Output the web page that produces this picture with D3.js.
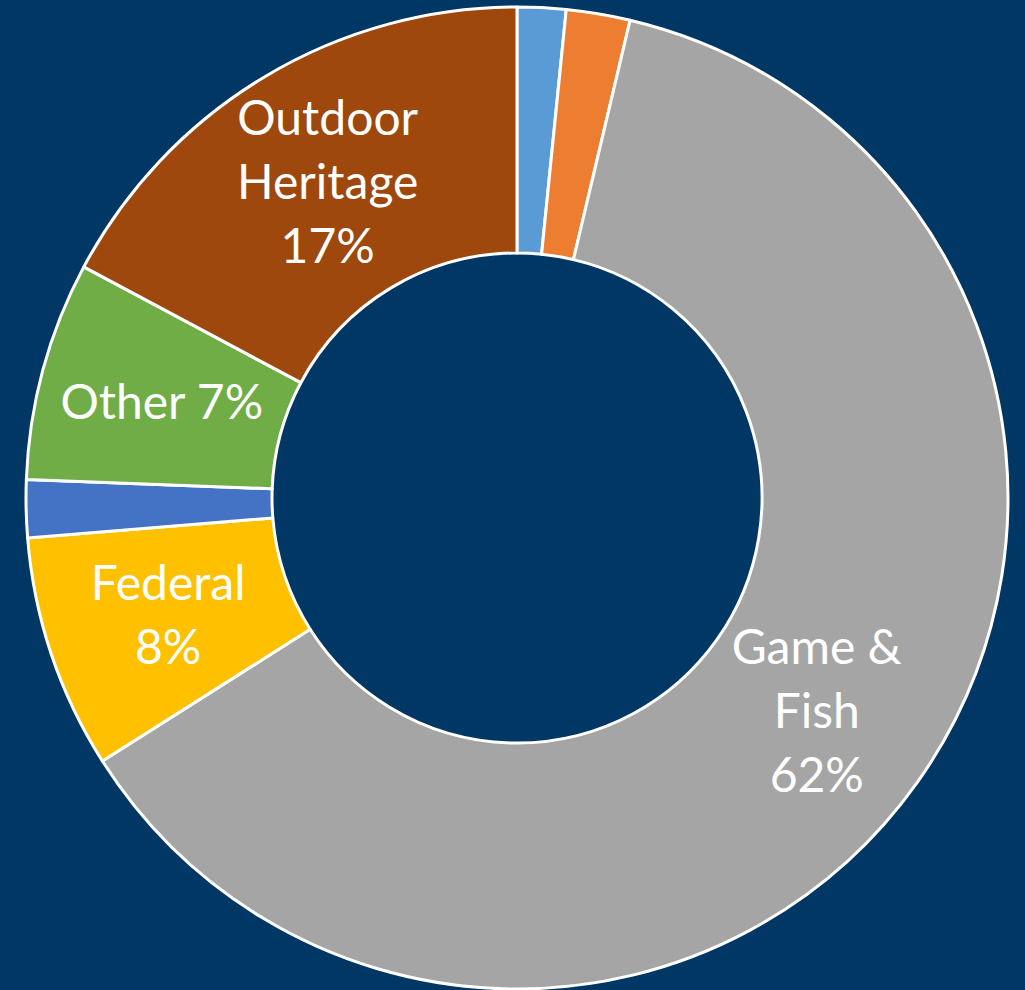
<!DOCTYPE html>
<html lang="en">
  <head>
    <meta charset="utf-8">
    <script src="https://cdn.jsdelivr.net/npm/d3@7"></script>
    <style>
      html, body { margin: 0; padding: 0; background: #003764; }
      svg { display: block; }
    </style>
  </head>
  <body>
    <svg class="donut"></svg>
  </body>
  <script>
    // slices clockwise from 12 o'clock
    var categories = ['Blue small', 'Orange small', 'Game & Fish', 'Federal', 'Blue 2', 'Other', 'Outdoor Heritage'];
    var values = [1.6, 2.1, 62.3, 7.7, 1.9, 7.2, 17.2];
    var colorList = ['#5b9bd5', '#ed7d31', '#a5a5a5', '#ffc000', '#4472c4', '#70ad47', '#9e480e'];
    var labels = [[], [], ['Game &', 'Fish', '62%'], ['Federal', '8%'], [], ['Other 7%'], ['Outdoor', 'Heritage', '17%']];

    var screenWidth = 1025, screenHeight = 990;
    var cx = 517, cy = 498;
    var outerR = 491, innerR = 245;

    var svg = d3.select('.donut')
                .attr('width', screenWidth)
                .attr('height', screenHeight);

    svg.append('rect')
       .attr('width', screenWidth)
       .attr('height', screenHeight)
       .attr('fill', '#003764');

    var data = categories.map(function(c, i){
      return {name: c, value: values[i], color: colorList[i], label: labels[i]};
    });

    var pie = d3.pie()
                .value(function(d){ return d.value })
                .sort(null);

    var arc = d3.arc()
                .innerRadius(innerR)
                .outerRadius(outerR);

    var plot = svg.append('g')
                  .attr('transform', 'translate(' + cx + ',' + cy + ')');

    var slices = plot.selectAll('g.slice')
                     .data(pie(data))
                     .enter()
                     .append('g')
                     .classed('slice', true);

    slices.append('path')
          .attr('d', arc)
          .attr('fill', function(d){ return d.data.color })
          .attr('stroke', 'white')
          .attr('stroke-width', 3)
          .attr('stroke-linejoin', 'round');

    var lineH = 64;
    slices.each(function(d){
      var lines = d.data.label;
      if (!lines.length) return;
      var c = arc.centroid(d);
      var t = d3.select(this).append('text')
                .attr('x', c[0])
                .attr('y', c[1])
                .attr('text-anchor', 'middle')
                .attr('fill', 'white')
                .style('font-family', 'Lato, "Open Sans", sans-serif')
                .style('font-size', '48px');
      lines.forEach(function(l, i){
        t.append('tspan')
         .attr('x', c[0])
         .attr('y', c[1] + 17 + (i - (lines.length - 1) / 2) * lineH)
         .text(l);
      });
    });
  </script>
</html>
